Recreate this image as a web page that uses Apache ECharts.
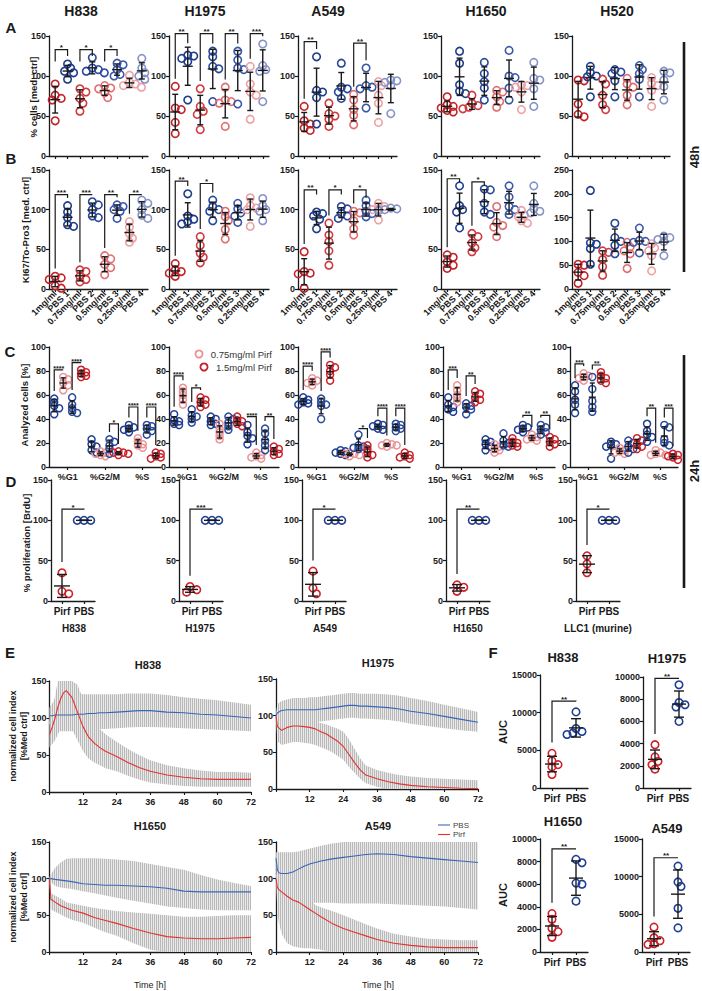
<!DOCTYPE html>
<html><head><meta charset="utf-8">
<script src="https://cdn.jsdelivr.net/npm/echarts@6/dist/echarts.min.js"></script>
<style>html,body{margin:0;padding:0;background:#fff}#c{width:702px;height:991px}</style>
</head><body><div id="c"></div>
<script>
// ---------------- DATA ----------------
const doseCats = ['1mg/ml','PBS 1','0.75mg/ml','PBS 2','0.5mg/ml','PBS 3','0.25mg/ml','PBS 4'];
const doseCatsH1650 = ['1mg/ml','PBS 1','0.75mg/ml','PBS 3','0.5mg/ml','PBS 2','0.25mg/ml','PBS 4'];
const phaseCats = ['%G1','%G2/M','%S'];
const pairCats = ['Pirf','PBS'];

// Row A: % cells [med. ctrl], 48h
const A_H838 = [[90,76,72,70,44],[115,110,106,104,96],[84,80,72,66,56],[123,110,108,106,104],[88,85,84,79,73],[116,114,108,102,100],[101,92,90,88,86],[122,110,104,100,96]];
const A_H1975 = [[87,60,58,42,28],[126,125,122,118,70],[84,62,56,52,33],[131,124,112,109,68],[86,70,68,66,37],[131,120,110,108,65],[112,90,80,76,46],[140,113,108,106,68]];
const A_A549 = [[62,44,40,35,32],[124,82,80,73,40],[66,53,50,46,37],[116,86,84,80,72],[77,70,58,51,39],[110,88,86,84,60],[93,88,76,66,42],[95,94,92,88,53]];
const A_H1650 = [[74,64,62,60,57,55],[131,116,89,81,78],[76,66,63,61,59],[117,103,93,85,70],[82,80,74,68,61],[132,100,98,85,70],[89,88,86,80,58],[117,97,95,84,62]];
const A_H520 = [[95,94,65,52,49],[112,104,100,99,74],[96,90,76,64,58],[108,105,103,94,74],[97,90,86,76,64],[113,108,103,96,74],[98,91,88,82,62],[106,104,95,87,70]];
// Row B: KI67/To-Pro3 [med. ctrl]
const B_H838 = [[16,14,12,4,1],[105,97,90,81,79],[24,22,16,12,9],[110,106,100,92,90],[42,38,31,27,18],[106,104,100,98,89],[85,78,70,64,59],[112,108,100,93,89]];
const B_H1975 = [[32,24,22,20,16],[120,92,88,85,82],[66,55,45,40,33],[112,104,100,98,86],[98,91,86,75,63],[108,101,96,92,84],[115,105,102,100,79],[114,105,100,98,86]];
const B_A549 = [[47,22,20,19,1],[97,95,92,88,76],[83,68,60,48,30],[104,101,95,92,89],[98,96,86,76,68],[112,105,98,95,91],[108,104,101,100,87],[102,101,100,100,99]];
const B_H1650 = [[43,40,34,30,26],[130,105,100,97,77],[70,66,58,52,47],[126,125,108,97,94],[104,84,80,78,66],[130,116,104,100,94],[99,93,91,86,83],[130,108,101,98,96]];
const B_H520 = [[52,50,35,28,12],[207,97,94,85,52],[80,77,62,47,29],[138,108,100,92,74],[98,88,80,74,43],[128,102,100,98,76],[95,86,80,70,38],[111,108,104,100,70]];
// significance brackets: [group i, group j, top, label, left leg end, right leg end]
const sigA_H838 = [[0,1,133,'*',118,125],[2,3,133,'*',118,125],[4,5,133,'*',118,125]];
const sigA_H1975 = [[0,1,153,'**'],[2,3,153,'**'],[4,5,153,'**'],[6,7,153,'***']];
const sigA_A549 = [[0,1,143,'**'],[4,5,141,'**']];
const sigB_H838 = [[0,1,119,'***'],[2,3,119,'***'],[4,5,119,'**'],[6,7,119,'**']];
const sigB_H1975 = [[0,1,136,'**'],[2,3,133,'*']];
const sigB_A549 = [[0,1,125,'**',null,119],[2,3,125,'*',null,119],[4,5,125,'*',null,115]];
const sigB_H1650 = [[0,1,139,'**',null,135],[2,3,135,'*',null,130]];

// Row C: Analyzed cells [%], 24h. Order per phase: PBS, 0.75 Pirf, PBS, 1.5 Pirf
const C_H838 = [[57,54,51,49,44],[75,73,70,68,64],[58,52,49,46,45],[81,79,78,76,75],[23,19,17,14,12],[13,12,11,10,9],[23,21,18,15,11],[13,12,12,11,10],[35,33,32,31,29],[24,21,19,18,16],[35,34,32,30,27],[12,11,9,8,7]];
const C_H1975 = [[44,39,38,36,35],[66,63,60,56,52],[48,43,42,40,37],[58,56,54,52,50],[42,40,38,36,35],[36,32,29,26,23],[42,40,37,34,31],[42,39,38,36,34],[35,29,26,24,19],[12,10,9,8,7],[32,28,22,18,14],[17,15,13,11,10]];
const C_A549 = [[58,56,54,53,52],[74,72,71,70,68],[57,54,52,51,40],[85,83,80,77,72],[14,13,12,11,10],[12,11,11,10,9],[27,18,17,16,15],[18,15,12,10,8],[36,35,34,32,31],[20,19,18,18,17],[36,35,33,32,30],[12,10,9,8,7]];
const C_H1650 = [[58,52,50,48,46],[68,64,60,57,54],[53,51,50,48,44],[63,61,58,56,54],[23,21,19,17,14],[19,17,15,14,12],[28,22,20,18,17],[24,21,20,18,17],[35,33,32,31,29],[27,25,24,23,22],[35,33,31,29,27],[25,23,21,19,17]];
const C_LLC1 = [[68,63,56,52,45],[78,76,75,74,72],[75,65,55,50,46],[79,76,74,72,70],[21,19,18,17,7],[16,14,13,12,11],[22,20,17,15,12],[24,22,19,17,15],[36,30,27,25,21],[14,12,11,10,10],[35,33,23,20,18],[11,10,9,8,6]];
const sigC_H838 = [[0,1,81,'****'],[2,3,87,'****'],[6,7,36,'*'],[8,9,50,'****'],[10,11,50,'****']];
const sigC_H1975 = [[0,1,76,'****'],[2,3,66,'*'],[8,9,42,'****'],[10,11,42,'**']];
const sigC_A549 = [[0,1,84,'****'],[2,3,96,'****'],[6,7,32,'*'],[8,9,49,'****'],[10,11,49,'****']];
const sigC_H1650 = [[0,1,81,'***'],[2,3,76,'**'],[8,9,43,'**'],[10,11,43,'**']];
const sigC_LLC1 = [[0,1,86,'***'],[2,3,85,'**'],[8,9,49,'**'],[10,11,49,'***']];

// Row D: % proliferation [BrdU]
const D_H838 = [[35,12,9],[100,100,100]];
const D_H1975 = [[18,14,11],[100,100,100]];
const D_A549 = [[37,16,9],[100,100,100]];
const D_H1650 = [[20,17,12],[100,100,100]];
const D_LLC1 = [[56,46,35],[100,100,100]];
const sigD = ['*','***','*','**','*'];
const sigDTop = [114,114,114,114,114];

// Panel E: normalized cell index [%Med ctrl] over time
const E_H838_t = [0,1,2,3,4,5,6,8,10,12,14,16,18,20,24,28,32,36,42,48,54,60,66,72];
const E_H838_pbs = [103,103,104,104,104,104,104,104,105,105,106,106,107,107,108,109,110,110,108,107,105,104,102,100];
const E_H838_pbsLo = [92,88,85,83,82,82,82,82,82,82,83,84,85,85,86,87,88,88,87,86,85,84,83,82];
const E_H838_pbsHi = [114,120,126,132,135,135,135,134,133,132,132,132,132,132,132,133,133,133,131,128,126,124,121,118];
const E_H838_pirf = [78,88,100,115,126,134,137,128,108,88,74,66,60,55,48,40,33,28,23,20,18,17,17,17];
const E_H838_pirfLo = [60,65,70,78,85,90,92,85,70,55,45,40,36,32,28,22,17,13,10,8,7,7,7,7];
const E_H838_pirfHi = [95,112,130,150,150,150,150,150,145,125,105,95,85,78,68,58,50,43,36,32,29,27,27,26];

const E_H1975_t = [0,0.5,2,4,6,8,10,12,14,16,18,20,22,24,26,28,30,32,36,40,44,48,54,60,66,72];
const E_H1975_pbs = [100,104,107,108,108,108,108,108,108,109,110,111,112,113,114,114,113,113,112,111,109,106,103,99,95,91];
const E_H1975_pbsLo = [96,90,88,88,89,90,90,91,91,92,93,94,95,96,97,97,96,96,95,94,92,89,86,83,80,78];
const E_H1975_pbsHi = [104,116,120,122,124,124,124,125,125,126,127,128,129,130,131,131,130,130,130,129,127,124,120,115,110,105];
const E_H1975_pirf = [100,85,80,84,86,86,85,84,82,78,75,70,65,58,47,36,26,19,14,10,7,5,3,2,1,0.5];
const E_H1975_pirfLo = [95,65,60,62,64,64,63,62,60,57,54,50,45,40,30,22,14,8,3,0,0,0,0,0,0,0];
const E_H1975_pirfHi = [100,96,92,94,96,96,95,94,92,90,88,85,82,78,68,55,42,32,26,22,19,17,15,14,13,12];

const E_H1650_t = [0,0.5,2,4,6,8,12,16,20,24,30,36,42,48,54,60,66,72];
const E_H1650_pbs = [100,100,99,98,97,96,93,92,91,91,90,89,87,83,82,82,82,82];
const E_H1650_pbsLo = [98,95,90,88,87,86,83,80,77,74,70,66,62,60,58,57,57,57];
const E_H1650_pbsHi = [102,106,115,122,127,128,128,128,127,126,124,120,116,112,105,99,94,90];
const E_H1650_pirf = [100,72,68,63,60,57,53,47,43,39,32,26,21,19,18,18,19,20];
const E_H1650_pirfLo = [98,58,55,51,47,44,40,33,27,22,12,3,0,0,0,0,0,0];
const E_H1650_pirfHi = [102,80,77,73,68,66,63,60,58,56,54,52,50,48,48,49,50,50];

const E_A549_t = [0,0.5,1,2,4,6,8,10,12,14,16,20,24,28,32,36,42,48,54,60,66,72];
const E_A549_pbs = [128,112,108,107,107,109,113,117,120,122,124,127,129,131,133,134,133,130,128,126,124,122];
const E_A549_pbsLo = [120,75,65,62,62,63,64,65,66,67,67,67,66,66,66,66,65,64,63,62,60,58];
const E_A549_pbsHi = [136,136,136,136,136,136,137,139,141,143,145,148,150,150,150,150,150,150,150,150,150,150];
const E_A549_pirf = [100,88,85,82,76,71,68,63,58,53,48,39,32,27,22,17,12,9,7,6,6,6];
const E_A549_pirfLo = [96,55,40,25,12,8,6,5,5,4,3,0,0,0,0,0,0,0,0,0,0,0];
const E_A549_pirfHi = [104,115,125,130,132,130,115,95,72,64,61,56,50,44,38,32,25,21,18,17,16,16];

// Panel F: AUC
const F_H838 = [[4600,3600,3100,2800,1800],[10100,7900,7500,7300,7100]];
const F_H1975 = [[3900,2800,2400,2100,1700],[9300,7700,7500,7300,6000]];
const F_H1650 = [[3400,2900,2100,1800,1300],[8200,7900,6100,6000,4500]];
const F_A549 = [[3300,1900,1500,1100,1000],[11400,9300,8700,5800,3200]];
const sigF = ['**','**','**','**'];
const sigFTop = [11540,9880,9120,12510];

// ---------------- STYLE / HELPERS ----------------
const INK = '#1a1a1a';
const FONT = "'Liberation Sans', Arial, Helvetica, sans-serif";
const BLUE = ['#1c3c8c','#26479b','#3a58a8','#8593c8'];
const RED = ['#c42128','#cf3b3f','#e06e70','#eda1a2'];
const abColors = [RED[0],BLUE[0],RED[1],BLUE[1],RED[2],BLUE[2],RED[3],BLUE[3]];
const cColorsOne = ['#1f3f94','#ea9496','#2a4a9e','#c8232b'];
const cColors = cColorsOne.concat(cColorsOne, cColorsOne);
const pairColors = ['#cc2229','#1f3f94'];

const grids=[], xAxes=[], yAxes=[], series=[], graphics=[];

function mean(a){return a.reduce((s,v)=>s+v,0)/a.length;}
function sdev(a){const m=mean(a);return Math.sqrt(a.reduce((s,v)=>s+(v-m)*(v-m),0)/(a.length-1));}

function swarm(vals, pxY, size, fac, stepF){
  const idx = vals.map((v,i)=>i).sort((a,b)=>vals[b]-vals[a]);
  const placed=[]; const off=new Array(vals.length).fill(0);
  const minD=size*fac, step=size*stepF;
  idx.forEach(i=>{
    const y=vals[i]*pxY; let chosen=0;
    for(let k=0;k<15;k++){
      const cand = k===0?0:(k%2?1:-1)*Math.ceil(k/2)*step;
      if(placed.every(q=>Math.hypot(q[0]-cand,q[1]-y)>=minD)){chosen=cand;break;}
    }
    placed.push([chosen,y]); off[i]=chosen;
  });
  return off;
}

function axisStyle(){return {show:true,onZero:false,lineStyle:{color:INK,width:1.3}};}

function panel(p){
  const gi=grids.length;
  grids.push({left:p.left,top:p.top,width:p.width,height:p.height});
  xAxes.push({type:'category',gridIndex:gi,data:p.cats,boundaryGap:true,position:'bottom',
    axisLine:axisStyle(),
    axisTick:{show:true,alignWithLabel:true,length:3,lineStyle:{color:INK,width:1.2}},
    axisLabel:{show:!!p.showLabels,interval:0,rotate:p.rotate||0,fontSize:p.labelSize||9,fontWeight:'bold',color:INK,fontFamily:FONT,margin:p.labelMargin||4},
    splitLine:{show:false}});
  const valIdx=xAxes.length;
  xAxes.push({type:'value',gridIndex:gi,min:p.xmin,max:p.xmax,show:false,position:'top'});
  const yIdx=yAxes.length;
  yAxes.push({type:'value',gridIndex:gi,min:0,max:p.ymax,interval:p.yint,
    axisLine:axisStyle(),axisTick:{show:true,length:3,lineStyle:{color:INK,width:1.2}},
    axisLabel:{fontSize:9,fontWeight:'bold',color:INK,fontFamily:FONT,margin:3,formatter:v=>String(v)},splitLine:{show:false}});
  const pxX=p.width/(p.xmax-p.xmin), pxY=p.height/p.ymax;
  const stats=[], tops=[];
  p.groups.forEach((vals,g)=>{
    const x0=p.pos[g];
    const off=swarm(vals,pxY,p.sym,p.fac||0.65,p.stepF||0.4);
    series.push({type:'scatter',xAxisIndex:valIdx,yAxisIndex:yIdx,symbol:'circle',symbolSize:p.sym,silent:true,z:3,
      itemStyle:{color:'rgba(255,255,255,0)',borderColor:p.colors[g],borderWidth:p.bw||1.6,opacity:1},
      data:vals.map((v,k)=>[x0+off[k]/pxX,v])});
    const m=mean(vals), s=sdev(vals);
    stats.push([x0,m,s]);
    tops.push(Math.max(Math.max(...vals)+ (p.sym/2)/pxY, m+s));
  });
  const mw=p.meanW, cw=p.capW;
  series.push({type:'custom',xAxisIndex:valIdx,yAxisIndex:yIdx,z:5,silent:true,clip:false,data:stats,encode:{x:0,y:1},
    renderItem:function(params,api){
      const x=api.value(0), m=api.value(1), s=api.value(2);
      const c=api.coord([x,m]), t=api.coord([x,m+s]), b=api.coord([x,Math.max(m-s,0)]);
      const st={stroke:INK,lineWidth:1.4,fill:'none'};
      const ch=[
        {type:'line',shape:{x1:c[0]-mw/2,y1:c[1],x2:c[0]+mw/2,y2:c[1]},style:st},
        {type:'line',shape:{x1:c[0],y1:t[1],x2:c[0],y2:b[1]},style:st},
        {type:'line',shape:{x1:c[0]-cw/2,y1:t[1],x2:c[0]+cw/2,y2:t[1]},style:st}];
      if(m-s>0) ch.push({type:'line',shape:{x1:c[0]-cw/2,y1:b[1],x2:c[0]+cw/2,y2:b[1]},style:st});
      return {type:'group',children:ch};
    }});
  if(p.sig && p.sig.length){
    const gap=(p.gap||4)/pxY;
    const labels=p.sig.map(b=>b[3]);
    const data=p.sig.map(b=>{
      const [i,j,top,,lb,rb]=b;
      const l=(lb!=null)?lb:tops[i]+gap, r=(rb!=null)?rb:tops[j]+gap;
      return [p.pos[i],p.pos[j],top,Math.min(l,top),Math.min(r,top)];
    });
    const fs=p.sigSize||8;
    series.push({type:'custom',xAxisIndex:valIdx,yAxisIndex:yIdx,z:6,silent:true,clip:false,data,encode:{x:[0,1],y:2},
      renderItem:function(params,api){
        const x1=api.value(0),x2=api.value(1),t=api.value(2),l=api.value(3),r=api.value(4);
        const a=api.coord([x1,l]),b=api.coord([x1,t]),c=api.coord([x2,t]),d=api.coord([x2,r]);
        return {type:'group',children:[
          {type:'polyline',shape:{points:[a,b,c,d]},style:{stroke:INK,lineWidth:1.2,fill:'none'}},
          {type:'text',x:(b[0]+c[0])/2,y:b[1]+2,style:{text:labels[params.dataIndex],fontSize:fs,fontWeight:'bold',fontFamily:FONT,fill:INK,align:'center',verticalAlign:'bottom'}}
        ]};
      }});
  }
}

// hatch pattern for E bands
function hatch(){
  const cv=document.createElement('canvas'); cv.width=2; cv.height=2;
  const g=cv.getContext('2d');
  g.fillStyle='#e9e9e9'; g.fillRect(0,0,2,2);
  g.fillStyle='#b9b9b9'; g.fillRect(0,0,1,2);
  return {image:cv.toDataURL(),imageWidth:2,imageHeight:2,repeat:'repeat'};
}
const HATCH=hatch();

function ePanel(p){
  const gi=grids.length;
  grids.push({left:p.left,top:p.top,width:p.width,height:p.height});
  const xi=xAxes.length;
  xAxes.push({type:'value',gridIndex:gi,min:0,max:72,interval:12,
    axisLine:axisStyle(),axisTick:{show:true,length:3,lineStyle:{color:INK,width:1.1}},
    axisLabel:{fontSize:9,fontWeight:'bold',color:INK,fontFamily:FONT,margin:5,formatter:v=>v===0?'':String(v)},
    splitLine:{show:false}});
  const yi=yAxes.length;
  yAxes.push({type:'value',gridIndex:gi,min:0,max:150,interval:50,
    axisLine:axisStyle(),axisTick:{show:true,length:3,lineStyle:{color:INK,width:1.1}},
    axisLabel:{fontSize:9,fontWeight:'bold',color:INK,fontFamily:FONT,margin:3},splitLine:{show:false}});
  const cl=v=>Math.max(0,Math.min(150,v));
  function band(lo,hi){
    series.push({type:'custom',xAxisIndex:xi,yAxisIndex:yi,silent:true,z:1,clip:false,
      data:p.t.map((t,i)=>[t,lo[i],hi[i]]),encode:{x:0,y:[1,2]},
      renderItem:function(params,api){
        if(params.dataIndex!==0) return null;
        const pts=[];
        for(let i=0;i<p.t.length;i++) pts.push(api.coord([p.t[i],cl(lo[i])]));
        for(let i=p.t.length-1;i>=0;i--) pts.push(api.coord([p.t[i],cl(hi[i])]));
        return {type:'polygon',shape:{points:pts},style:{fill:HATCH,stroke:'none'}};
      }});
  }
  band(p.pbsLo,p.pbsHi); band(p.pirfLo,p.pirfHi);
  series.push({type:'line',xAxisIndex:xi,yAxisIndex:yi,showSymbol:false,silent:true,z:4,data:p.t.map((t,i)=>[t,p.pbs[i]]),lineStyle:{color:'#3b66b8',width:1.1}});
  series.push({type:'line',xAxisIndex:xi,yAxisIndex:yi,showSymbol:false,silent:true,z:4,data:p.t.map((t,i)=>[t,p.pirf[i]]),lineStyle:{color:'#e5322d',width:1.1}});
}

function T(text,x,y,o){
  o=o||{};
  graphics.push({type:'text',x:x,y:y,rotation:o.rot||0,silent:true,z:20,
    style:{text:text,fontFamily:FONT,fontSize:o.size||10,fontWeight:o.bold===false?'normal':'bold',fill:o.color||INK,
      align:o.align||'center',verticalAlign:o.va||'middle',lineHeight:o.lh||undefined}});
}
function L(x1,y1,x2,y2,w,c){graphics.push({type:'line',silent:true,z:20,shape:{x1,y1,x2,y2},style:{stroke:c||INK,lineWidth:w||1}});}

// ---------------- LAYOUT ----------------
const colAB=[[49,99],[169,100],[298,99],[441,99],[572,98]];
const posAB=[0,1,2,3,4,5,6,7];
const rowA=[[A_H838,sigA_H838],[A_H1975,sigA_H1975],[A_A549,sigA_A549],[A_H1650,[]],[A_H520,[]]];
rowA.forEach((r,k)=>panel({left:colAB[k][0],top:36,width:colAB[k][1],height:120,ymax:150,yint:50,
  cats:doseCats,showLabels:false,xmin:-0.5,xmax:7.5,pos:posAB,groups:r[0],colors:abColors,sym:7.5,meanW:10,capW:6,sig:r[1]}));
const rowB=[[B_H838,sigB_H838,doseCats,150],[B_H1975,sigB_H1975,doseCats,150],[B_A549,sigB_A549,doseCats,150],[B_H1650,sigB_H1650,doseCatsH1650,150],[B_H520,[],doseCats,250]];
rowB.forEach((r,k)=>panel({left:colAB[k][0],top:170,width:colAB[k][1],height:119,ymax:r[3],yint:50,
  cats:r[2],showLabels:true,rotate:45,labelMargin:3,xmin:-0.5,xmax:7.5,pos:posAB,groups:r[0],colors:abColors,sym:7.5,meanW:10,capW:6,sig:r[1]}));

const colC=[[49,112],[169,110],[298,112],[443,112],[570,108]];
const posC=[];
for(let k=0;k<3;k++){const c=(2*k+1)*12.5/6;[-1.5,-0.5,0.5,1.5].forEach(o=>posC.push(c+o));}
const rowC=[[C_H838,sigC_H838],[C_H1975,sigC_H1975],[C_A549,sigC_A549],[C_H1650,sigC_H1650],[C_LLC1,sigC_LLC1]];
rowC.forEach((r,k)=>panel({left:colC[k][0],top:347,width:colC[k][1],height:120,ymax:100,yint:20,
  cats:phaseCats,showLabels:true,labelSize:9,labelMargin:5,xmin:0,xmax:12.5,pos:posC,groups:r[0],colors:cColors,sym:7,bw:1.5,fac:0.5,stepF:0.35,meanW:7,capW:5,sig:r[1],sigSize:7}));

const colD=[51,179,302,446,576];
const rowD=[D_H838,D_H1975,D_A549,D_H1650,D_LLC1];
rowD.forEach((g,k)=>panel({left:colD[k],top:480,width:44,height:121,ymax:150,yint:50,
  cats:pairCats,showLabels:true,labelSize:10,labelMargin:5,xmin:-0.5,xmax:1.5,pos:[0,1],groups:g,colors:pairColors,sym:7.5,fac:0.8,stepF:0.45,meanW:16,capW:10,
  sig:[[0,1,sigDTop[k],sigD[k]]],gap:7}));

ePanel({left:49.5,top:681,width:201.5,height:111,t:E_H838_t,pbs:E_H838_pbs,pbsLo:E_H838_pbsLo,pbsHi:E_H838_pbsHi,pirf:E_H838_pirf,pirfLo:E_H838_pirfLo,pirfHi:E_H838_pirfHi});
ePanel({left:276,top:679,width:202,height:110,t:E_H1975_t,pbs:E_H1975_pbs,pbsLo:E_H1975_pbsLo,pbsHi:E_H1975_pbsHi,pirf:E_H1975_pirf,pirfLo:E_H1975_pirfLo,pirfHi:E_H1975_pirfHi});
ePanel({left:49.5,top:842,width:201.5,height:110,t:E_H1650_t,pbs:E_H1650_pbs,pbsLo:E_H1650_pbsLo,pbsHi:E_H1650_pbsHi,pirf:E_H1650_pirf,pirfLo:E_H1650_pirfLo,pirfHi:E_H1650_pirfHi});
ePanel({left:276,top:842,width:202,height:110,t:E_A549_t,pbs:E_A549_pbs,pbsLo:E_A549_pbsLo,pbsHi:E_A549_pbsHi,pirf:E_A549_pirf,pirfLo:E_A549_pirfLo,pirfHi:E_A549_pirfHi});

const fCfg=[[F_H838,540,675,113,15000,5000],[F_H1975,643,677,111,10000,2000],[F_H1650,540,839,113,10000,2000],[F_A549,642,839,113,15000,5000]];
fCfg.forEach((f,k)=>panel({left:f[1],top:f[2],width:48,height:f[3],ymax:f[4],yint:f[5],
  cats:pairCats,showLabels:true,labelSize:10,labelMargin:5,xmin:-0.5,xmax:1.5,pos:[0,1],groups:f[0],colors:pairColors,sym:7.5,meanW:14,capW:10,
  sig:[[0,1,sigFTop[k],sigF[k]]],gap:7}));

// ---------------- TEXT / DECOR ----------------
[['H838',81],['H1975',205],['A549',328],['H1650',486],['H520',617]].forEach(t=>T(t[0],t[1],11,{size:14}));
[['A',11,27],['B',11,158],['C',10,351],['D',11,481],['E',10,652],['F',493,652]].forEach(t=>T(t[0],t[1],t[2],{size:15}));
T('% cells [med. ctrl]',33,97,{rot:Math.PI/2,size:9.5});
T('KI67/To-Pro3 [med. ctrl]',25,230,{rot:Math.PI/2,size:9.5});
T('Analyzed cells [%]',24,405,{rot:Math.PI/2,size:9.5});
T('% proliferation [BrdU]',26,543,{rot:Math.PI/2,size:9.5});
[['H838',74],['H1975',200],['A549',325],['H1650',468],['LLC1 (murine)',598]].forEach(t=>T(t[0],t[1],628,{size:10}));
// 48h / 24h bars
L(684,42,684,272,2.6); T('48h',694,157,{rot:Math.PI/2,size:13});
L(684,355,684,588,2.6); T('24h',694,471,{rot:Math.PI/2,size:13});
// C legend
graphics.push({type:'circle',silent:true,z:20,shape:{cx:199,cy:354,r:3.6},style:{fill:'none',stroke:'#ea9496',lineWidth:1.8}});
graphics.push({type:'circle',silent:true,z:20,shape:{cx:204,cy:367,r:3.6},style:{fill:'none',stroke:'#c8232b',lineWidth:1.8}});
T('0.75mg/ml Pirf',272,354,{align:'right',size:9.5,bold:false,color:'#333'});
T('1.5mg/ml Pirf',272,367,{align:'right',size:9.5,bold:false,color:'#333'});
// E titles and labels
T('H838',148,665,{size:11}); T('H1975',378,663,{size:11}); T('H1650',150,826,{size:11}); T('A549',378,826,{size:11});
T('normalized cell index\n[%Med ctrl]',18,736,{rot:Math.PI/2,size:9,lh:11});
T('normalized cell index\n[%Med ctrl]',18,897,{rot:Math.PI/2,size:9,lh:11});
T('Time [h]',150,985,{size:9,bold:false});
T('Time [h]',378,985,{size:9,bold:false});
L(438,825,450,825,1.1,'#3b66b8'); L(438,834.5,450,834.5,1.1,'#e5322d');
T('PBS',453,825,{align:'left',size:8,bold:false,color:'#444'});
T('Pirf',453,834.5,{align:'left',size:8,bold:false,color:'#444'});
// F titles
T('H838',563,657,{size:13}); T('H1975',667,658,{size:13}); T('H1650',563,821,{size:13}); T('A549',667,828,{size:13});
T('AUC',503,732,{rot:Math.PI/2,size:11}); T('AUC',503,895,{rot:Math.PI/2,size:11});

const chart=echarts.init(document.getElementById('c'),null,{renderer:'svg',width:702,height:991});
chart.setOption({animation:false,backgroundColor:'#fff',textStyle:{fontFamily:FONT},
  grid:grids,xAxis:xAxes,yAxis:yAxes,series:series,graphic:{elements:graphics}});
</script></body></html>
